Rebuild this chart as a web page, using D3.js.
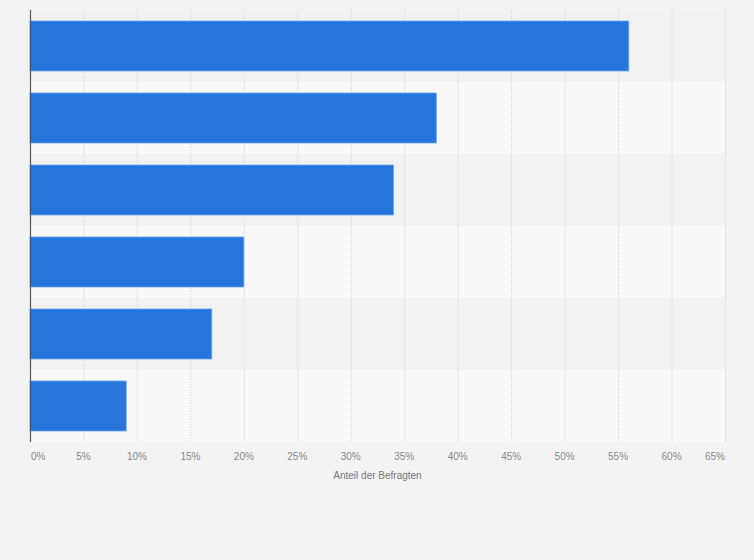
<!DOCTYPE html>
<html>
<head>
<meta charset="utf-8">
<script src="https://cdn.jsdelivr.net/npm/d3@7"></script>
<style>
  body { margin: 0; background: #f3f3f3; }
  svg { display: block; font-family: "Liberation Sans", Arial, sans-serif; }
</style>
</head>
<body>
<div id="vis"></div>
<script>
// data (category labels are not shown in it)
var categories = ['A', 'B', 'C', 'D', 'E', 'F'];
var values = [56, 38, 34, 20, 17, 9];
var tickValues = [0, 5, 10, 15, 20, 25, 30, 35, 40, 45, 50, 55, 60, 65];
var axisTitle = 'Anteil der Befragten';

var width = 754;
var height = 560;
var margin = { top: 10, left: 30, bottom: 118, right: 29 };

var svg = d3.select('#vis').append('svg')
  .attr('width', width)
  .attr('height', height);

svg.append('rect')
  .attr('width', width)
  .attr('height', height)
  .attr('fill', '#f3f3f3');

var x = d3.scaleLinear()
  .domain([0, 65])
  .range([margin.left, width - margin.right]);

var y = d3.scaleBand()
  .domain(categories)
  .range([margin.top, height - margin.bottom])
  .paddingInner(22 / 72)
  .paddingOuter(11 / 72);

// row stripes, one per band
var rowH = (height - margin.bottom - margin.top) / categories.length;
svg.append('g').selectAll('rect')
  .data(categories)
  .join('rect')
  .attr('x', x(0))
  .attr('y', function (d, i) { return margin.top + i * rowH; })
  .attr('width', x(65) - x(0))
  .attr('height', rowH)
  .attr('fill', function (d, i) { return i % 2 === 0 ? '#f2f2f2' : '#f8f8f8'; });

// vertical grid lines
svg.append('g').selectAll('line')
  .data(tickValues.slice(1))
  .join('line')
  .attr('x1', function (d) { return x(d) + 0.5; })
  .attr('x2', function (d) { return x(d) + 0.5; })
  .attr('y1', margin.top)
  .attr('y2', height - margin.bottom)
  .attr('stroke', '#d6d6d6')
  .attr('stroke-dasharray', '1,1');

// bars
svg.append('g').selectAll('rect')
  .data(values)
  .join('rect')
  .attr('x', x(0))
  .attr('y', function (d, i) { return y(categories[i]); })
  .attr('width', function (d) { return x(d) - x(0); })
  .attr('height', y.bandwidth())
  .attr('fill', '#2676dc')
  .attr('stroke', '#6ea3e8')
  .attr('stroke-width', 0.8);

// y axis line
svg.append('line')
  .attr('x1', x(0) + 0.5)
  .attr('x2', x(0) + 0.5)
  .attr('y1', margin.top)
  .attr('y2', height - margin.bottom)
  .attr('stroke', '#555')
  .attr('stroke-width', 1.2);

// x axis tick labels
var last = tickValues.length - 1;
svg.append('g').selectAll('text')
  .data(tickValues)
  .join('text')
  .attr('x', function (d, i) { return i === 0 ? x(d) + 1 : x(d); })
  .attr('y', height - margin.bottom + 18)
  .attr('text-anchor', function (d, i) {
    return i === 0 ? 'start' : (i === last ? 'end' : 'middle');
  })
  .attr('font-size', 10)
  .attr('fill', '#888')
  .text(function (d) { return d + '%'; });

// axis title
svg.append('text')
  .attr('x', (x(0) + x(65)) / 2)
  .attr('y', height - margin.bottom + 37)
  .attr('text-anchor', 'middle')
  .attr('font-size', 10)
  .attr('fill', '#777')
  .text(axisTitle);
</script>
</body>
</html>
